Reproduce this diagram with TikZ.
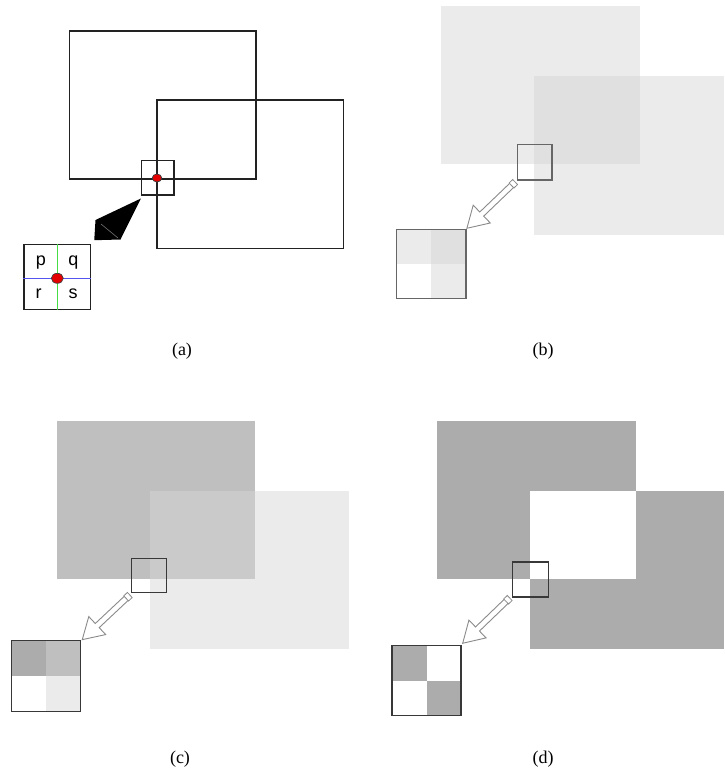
\documentclass[tikz,border=0pt]{standalone}
\usepackage{fontspec}
\setmainfont{Liberation Serif}
\newfontfamily\labelfont{Liberation Sans}
\usetikzlibrary{calc,shapes.geometric,shapes.arrows}
\definecolor{lightg}{HTML}{EBEBEB}
\definecolor{overb}{HTML}{E0E0E0}
\definecolor{midg}{HTML}{BFBFBF}
\definecolor{overc}{HTML}{CACACA}
\definecolor{darkg}{HTML}{ACACAC}
\definecolor{frame}{HTML}{222222}
\definecolor{boxg}{HTML}{666666}
\definecolor{arrg}{HTML}{8A8A8A}
\definecolor{gline}{HTML}{44DD44}
\definecolor{bline}{HTML}{5555EE}
\newcommand\zoomarrow[2]{%
  \path let \p1=($(#2)-(#1)$), \n1={atan2(\y1,\x1)}, \n2={veclen(\x1,\y1)} in
    node[openarr, minimum height=\n2, rotate=\n1] at ($(#1)!0.5!(#2)$) {}
    node[tailcap, rotate=\n1] at ($(#1)!3pt!(#2)$) {};}
\begin{document}
\begin{tikzpicture}[x=1pt,y=-1pt,
  frameA/.style={draw=frame, line width=1.6pt},
  boxA/.style={draw=frame, line width=1.6pt, inner sep=0pt},
  zbox/.style={draw=boxg, line width=1.3pt, inner sep=0pt},
  reddot/.style={ellipse, draw=black!75, fill=red!90!black, line width=0.7pt, inner sep=0pt},
  openarr/.style={single arrow, draw=arrg, line width=0.9pt, inner xsep=0pt, inner ysep=2.4pt,
    single arrow head extend=9.5pt, single arrow tip angle=62},
  tailcap/.style={rectangle, draw=arrg, fill=white, line width=0.8pt, inner sep=0pt,
    minimum width=5pt, minimum height=7pt},
  qlabel/.style={font=\labelfont\fontsize{18}{20}\selectfont, anchor=base, inner sep=0pt},
  captext/.style={font=\fontsize{18}{21}\selectfont, inner sep=0pt}
]
\useasboundingbox (0,0) rectangle (724,774);
\fill[white] (0,0) rectangle (724,774);

% ---------------- (a)
\draw[frameA] (69.3,31) rectangle (256,178.7);
\draw[frameA] (156.7,100) rectangle (343.3,248.3);
\node[boxA, minimum width=32.4pt, minimum height=34.4pt] (as) at (157.5,177.5) {};
\node[reddot, minimum width=9.5pt, minimum height=8pt] (adot) at (157,178) {};
\node[boxA, minimum width=66.7pt, minimum height=65pt] (az) at (57.3,276.8) {};
\draw[gline, line width=1pt] (az.north) -- (az.south);
\draw[bline, line width=1pt] ($(az.west)+(0,1.5)$) -- ($(az.east)+(0,1.5)$);
\node[reddot, minimum width=12pt, minimum height=10pt] (azdot) at (57.3,278.3) {};
\node[qlabel] (lp) at (41,265) {p};
\node[qlabel] (lq) at (73.5,265) {q};
\node[qlabel] (lr) at (38.5,298.5) {r};
\node[qlabel] (ls) at (73,298.5) {s};
\coordinate (atail) at ($(as.south west)+(0.4,3)$);
\coordinate (atip) at ($(az.north east)+(2.8,-3.3)$);
\fill[black] (atail) -- (120.5,239.5) -- (atip) -- (95.5,220) -- cycle;
\draw[black!55, line width=0.6pt] (101,224) -- (118,238);
\node[captext] (capa) at (182,351.5) {(a)};

% ---------------- (b)
\fill[lightg] (441,6) rectangle (639.7,164.3);
\fill[lightg] (534.3,76) rectangle (724,234.7);
\fill[overb] (534.3,76) rectangle (639.7,164.3);
\node[zbox, minimum width=34.3pt, minimum height=35.7pt] (bs) at (534.8,162.2) {};
\node[zbox, minimum width=69.3pt, minimum height=69.4pt,
  path picture={
    \fill[lightg] (path picture bounding box.north west) rectangle (path picture bounding box.center);
    \fill[overb] (path picture bounding box.north east) rectangle (path picture bounding box.center);
    \fill[lightg] (path picture bounding box.south east) rectangle (path picture bounding box.center);
  }] (bz) at (431.3,264) {};
\coordinate (btail) at ($(bs.south west)+(-1.5,1)$);
\coordinate (btip) at ($(bz.north east)+(2,-2)$);
\zoomarrow{btail}{btip}
\node[captext] (capb) at (543,351.5) {(b)};

% ---------------- (c)
\fill[midg] (56.7,421) rectangle (255.3,579.3);
\fill[lightg] (150,491) rectangle (348.7,649.3);
\fill[overc] (150,491) rectangle (255.3,579.3);
\node[zbox, draw=frame!90, minimum width=35.4pt, minimum height=34.4pt] (cs) at (149,575.5) {};
\node[zbox, draw=frame!90, minimum width=69pt, minimum height=70.6pt,
  path picture={
    \fill[darkg] (path picture bounding box.north west) rectangle (path picture bounding box.center);
    \fill[midg] (path picture bounding box.north east) rectangle (path picture bounding box.center);
    \fill[lightg] (path picture bounding box.south east) rectangle (path picture bounding box.center);
  }] (cz) at (46.2,676) {};
\coordinate (ctail) at ($(cs.south west)+(-0.5,1.3)$);
\coordinate (ctip) at ($(cz.north east)+(2.6,-2)$);
\zoomarrow{ctail}{ctip}
\node[captext] (capc) at (180,759) {(c)};

% ---------------- (d)
\fill[darkg] (437,421) rectangle (635.7,579.3);
\fill[darkg] (529.7,491) rectangle (724,649.3);
\fill[white] (529.7,491) rectangle (635.7,579.3);
\node[zbox, draw=frame!90, minimum width=35.6pt, minimum height=35pt] (ds) at (530.5,579.5) {};
\node[zbox, draw=frame!90, minimum width=69pt, minimum height=70pt,
  path picture={
    \fill[darkg] (path picture bounding box.north west) rectangle (path picture bounding box.center);
    \fill[darkg] (path picture bounding box.south east) rectangle (path picture bounding box.center);
  }] (dz) at (426.5,680.7) {};
\coordinate (dtail) at ($(ds.south west)+(-2,0)$);
\coordinate (dtip) at ($(dz.north east)+(2.7,-3.4)$);
\zoomarrow{dtail}{dtip}
\node[captext] (capd) at (543,759) {(d)};
\end{tikzpicture}
\end{document}
